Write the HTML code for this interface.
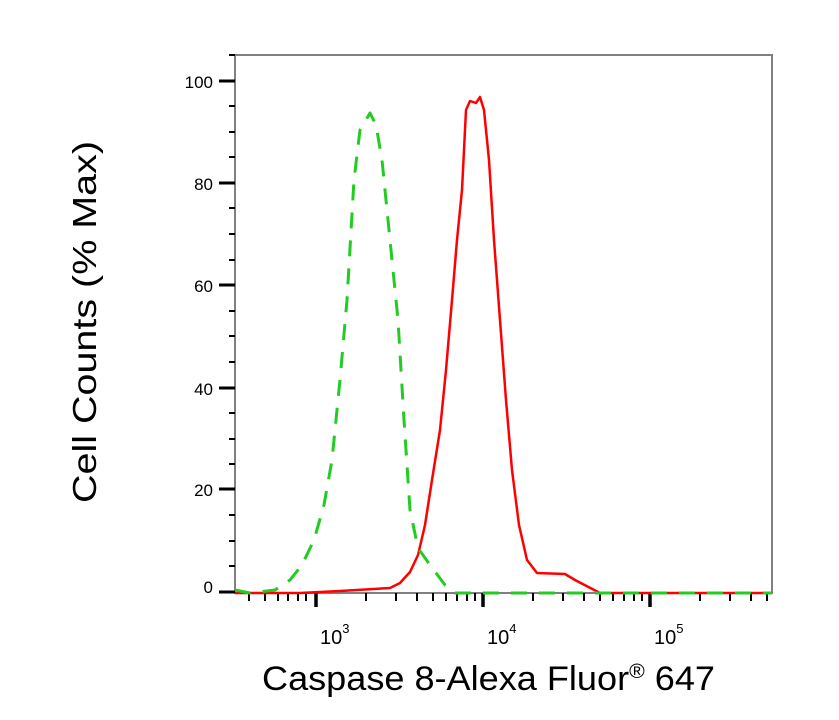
<!DOCTYPE html>
<html><head><style>body{margin:0;background:#fff}</style></head><body>
<svg width="839" height="715" xmlns="http://www.w3.org/2000/svg" font-family="Liberation Sans, Arial, sans-serif">
<rect x="235" y="55" width="537" height="538" fill="none" stroke="#808080" stroke-width="2"/>
<g stroke="#000" stroke-width="2">
<line x1="219" y1="81" x2="235" y2="81" stroke-width="3"/>
<line x1="219" y1="183" x2="235" y2="183" stroke-width="3"/>
<line x1="219" y1="285" x2="235" y2="285" stroke-width="3"/>
<line x1="219" y1="388" x2="235" y2="388" stroke-width="3"/>
<line x1="219" y1="489" x2="235" y2="489" stroke-width="3"/>
<line x1="219" y1="592" x2="235" y2="592" stroke-width="3"/>
<line x1="229" y1="55" x2="235" y2="55"/>
<line x1="229" y1="106" x2="235" y2="106"/><line x1="229" y1="132" x2="235" y2="132"/><line x1="229" y1="157" x2="235" y2="157"/>
<line x1="229" y1="208" x2="235" y2="208"/><line x1="229" y1="234" x2="235" y2="234"/><line x1="229" y1="260" x2="235" y2="260"/>
<line x1="229" y1="311" x2="235" y2="311"/><line x1="229" y1="336" x2="235" y2="336"/><line x1="229" y1="362" x2="235" y2="362"/>
<line x1="229" y1="413" x2="235" y2="413"/><line x1="229" y1="439" x2="235" y2="439"/><line x1="229" y1="464" x2="235" y2="464"/>
<line x1="229" y1="515" x2="235" y2="515"/><line x1="229" y1="541" x2="235" y2="541"/><line x1="229" y1="566" x2="235" y2="566"/>
</g>
<g font-size="17" text-anchor="end">
<text x="213" y="88">100</text><text x="213" y="190">80</text><text x="213" y="292">60</text>
<text x="213" y="395">40</text><text x="213" y="496">20</text><text x="213" y="593">0</text>
</g>
<g stroke="#000" stroke-width="2">
<line x1="316" y1="593" x2="316" y2="607" stroke-width="3.5"/>
<line x1="483" y1="593" x2="483" y2="607" stroke-width="3.5"/>
<line x1="650" y1="593" x2="650" y2="607" stroke-width="3.5"/>
<line x1="249" y1="593" x2="249" y2="601"/><line x1="265" y1="593" x2="265" y2="601"/><line x1="278" y1="593" x2="278" y2="601"/><line x1="288" y1="593" x2="288" y2="601"/><line x1="298" y1="593" x2="298" y2="601"/><line x1="306" y1="593" x2="306" y2="601"/>
<line x1="366" y1="593" x2="366" y2="601"/><line x1="396" y1="593" x2="396" y2="601"/><line x1="417" y1="593" x2="417" y2="601"/><line x1="433" y1="593" x2="433" y2="601"/><line x1="446" y1="593" x2="446" y2="601"/><line x1="457" y1="593" x2="457" y2="601"/><line x1="467" y1="593" x2="467" y2="601"/><line x1="475" y1="593" x2="475" y2="601"/>
<line x1="533" y1="593" x2="533" y2="601"/><line x1="563" y1="593" x2="563" y2="601"/><line x1="584" y1="593" x2="584" y2="601"/><line x1="600" y1="593" x2="600" y2="601"/><line x1="613" y1="593" x2="613" y2="601"/><line x1="624" y1="593" x2="624" y2="601"/><line x1="634" y1="593" x2="634" y2="601"/><line x1="642" y1="593" x2="642" y2="601"/>
<line x1="700" y1="593" x2="700" y2="601"/><line x1="730" y1="593" x2="730" y2="601"/><line x1="751" y1="593" x2="751" y2="601"/><line x1="767" y1="593" x2="767" y2="601"/>
</g>
<g font-size="20">
<text x="320" y="644">10<tspan font-size="13" dy="-11">3</tspan></text>
<text x="487" y="644">10<tspan font-size="13" dy="-11">4</tspan></text>
<text x="654" y="644">10<tspan font-size="13" dy="-11">5</tspan></text>
</g>
<polyline fill="none" stroke="#ff0000" stroke-width="2.5" stroke-linejoin="round" points="235,593 300,593 340,591 390,588 400,583 410,572 418,555 425,525 432,480 440,430 446,370 452,300 457,240 462,190 466,110 470,101 476,103 480,97 484,110 489,160 494,240 500,320 506,400 512,470 519,525 527,560 537,573 565,574 575,580 600,593 772,593"/>
<polyline fill="none" stroke="#22cc22" stroke-width="3" stroke-dasharray="16,12" stroke-linejoin="round" points="235,590 250,593 275,590 290,580 302,565 314,540 324,505 332,460 340,380 347,300 354,180 360,130 370,113 376,125 382,160 390,240 398,320 404,420 410,510 418,548 430,565 445,585 455,593 772,593"/>
<text transform="translate(96,322) rotate(-90)" font-size="33" text-anchor="middle" textLength="362" lengthAdjust="spacingAndGlyphs">Cell Counts (% Max)</text>
<text x="262" y="690" font-size="34" textLength="453" lengthAdjust="spacingAndGlyphs">Caspase 8-Alexa Fluor<tspan font-size="20" dy="-12">®</tspan><tspan dy="12"> 647</tspan></text>
</svg>
</body></html>
